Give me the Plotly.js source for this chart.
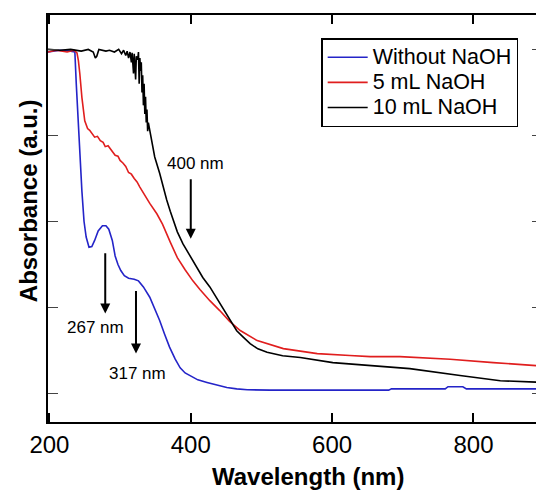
<!DOCTYPE html>
<html>
<head>
<meta charset="utf-8">
<script src="https://cdn.plot.ly/plotly-3.0.1.min.js"></script>
<style>
html, body { margin: 0; padding: 0; overflow: hidden; background: #fff; }
#chart { width: 560px; height: 490px; }
</style>
</head>
<body>
<div id="chart"></div>
<script>
// Wavelength (nm) and absorbance (a.u.)
const blueX = [198, 215, 230, 236, 238, 240, 243, 246, 249, 252, 256, 260, 264, 269, 275, 280, 284, 289, 293, 297, 301, 306, 312, 320, 326, 333, 342, 349, 356, 363, 370, 378, 385, 392, 399, 410, 423, 437, 451, 465, 480, 512, 560, 620, 680, 684, 760, 764, 785, 790, 897];
const blueY = [3.97, 3.99, 3.98, 3.97, 3.6, 3.3, 2.72, 2.35, 2.0, 1.82, 1.70, 1.71, 1.78, 1.89, 1.95, 1.95, 1.91, 1.78, 1.60, 1.50, 1.43, 1.37, 1.34, 1.33, 1.31, 1.24, 1.12, 0.99, 0.85, 0.69, 0.54, 0.40, 0.30, 0.24, 0.21, 0.16, 0.13, 0.10, 0.07, 0.055, 0.045, 0.04, 0.04, 0.04, 0.04, 0.055, 0.055, 0.08, 0.08, 0.055, 0.055];

const redX = [198, 210, 225, 235, 239, 241, 243, 246, 250, 254, 257, 260, 264, 268, 272, 276, 279, 283, 286, 290, 293, 297, 300, 304, 308, 312, 316, 320, 324, 328, 335, 342, 352, 360, 371, 381, 392, 403, 413, 427, 441, 455, 470, 494, 531, 579, 625, 654, 696, 767, 828, 897];
const redY = [3.97, 3.99, 3.97, 3.99, 3.96, 3.87, 3.72, 3.44, 3.17, 3.08, 3.06, 3.02, 2.98, 2.99, 2.94, 2.92, 2.87, 2.88, 2.85, 2.80, 2.77, 2.76, 2.71, 2.68, 2.64, 2.57, 2.55, 2.50, 2.46, 2.40, 2.30, 2.21, 2.09, 1.97, 1.76, 1.58, 1.44, 1.31, 1.21, 1.08, 0.965, 0.84, 0.733, 0.616, 0.523, 0.465, 0.442, 0.43, 0.43, 0.40, 0.36, 0.32];

const blackX = [198, 215, 230, 245, 255, 262, 265, 267, 270, 280, 285, 292, 298, 302, 305, 308, 310, 312, 314, 316, 317, 319, 320, 322, 323, 325, 326, 327, 328, 329, 330, 331, 332, 333, 334, 335, 336, 337, 338, 339, 340, 342, 345, 349, 356, 361, 366, 371, 381, 389, 399, 409, 417, 427, 441, 455, 465, 475, 484, 495, 508, 530, 555, 601, 654, 710, 781, 838, 897];
const blackY = [4.0, 3.99, 4.0, 3.98, 4.0, 3.97, 3.90, 3.92, 4.0, 3.98, 3.99, 3.97, 4.0, 3.95, 3.99, 3.93, 3.98, 3.9, 3.97, 3.85, 3.96, 3.72, 3.95, 3.65, 3.92, 3.88, 3.97, 3.6, 3.9, 3.75, 3.85, 3.5, 3.7, 3.35, 3.6, 3.25, 3.45, 3.15, 3.3, 3.05, 3.15, 3.06, 2.9, 2.75, 2.56, 2.40, 2.25, 2.12, 1.88, 1.74, 1.60, 1.46, 1.35, 1.24, 1.05, 0.85, 0.73, 0.65, 0.58, 0.52, 0.48, 0.44, 0.42, 0.36, 0.33, 0.29, 0.21, 0.15, 0.13];

const seriesNames = ["Without NaOH", "5 mL NaOH", "10 mL NaOH"];
const xTickVals = [200, 400, 600, 800];
const xTickText = ["200", "400", "600", "800"];
const yTickVals = [0, 1, 2, 3, 4];

// arrows: [headX, headY, tailX, tailY], labels: [x, y, text]
const arrows = [[400, 1.80, 400, 2.51], [279, 0.93, 279, 1.65], [322.5, 0.465, 322.5, 1.21]];
const labels = [[407, 2.67, "400 nm"], [264.5, 0.767, "267 nm"], [324, 0.233, "317 nm"]];

const FONT = "Liberation Sans, Arial, sans-serif";

const legendName = n => '<span style="font-size:21.5px">' + n + '</span>';

const traces = [
  {x: blueX, y: blueY, name: legendName(seriesNames[0]), mode: "lines", line: {color: "#2424c8", width: 1.6}},
  {x: redX, y: redY, name: legendName(seriesNames[1]), mode: "lines", line: {color: "#e01e1e", width: 1.6}},
  {x: blackX, y: blackY, name: legendName(seriesNames[2]), mode: "lines", line: {color: "#000000", width: 1.6}}
];

const annotations = [];
arrows.forEach(a => annotations.push({
  x: a[0], y: a[1], ax: a[2], ay: a[3], xref: "x", yref: "y", axref: "x", ayref: "y",
  text: "", showarrow: true, arrowhead: 2, arrowsize: 1, arrowwidth: 2, arrowcolor: "#000",
  standoff: 0, startstandoff: 0
}));
labels.forEach(l => annotations.push({
  x: l[0], y: l[1], xref: "x", yref: "y", text: l[2], showarrow: false,
  font: {family: FONT, size: 17, color: "#000"}, xanchor: "center", yanchor: "middle"
}));
annotations.push({
  x: 0.527, y: -0.134, xref: "paper", yref: "paper", text: "<b>Wavelength (nm)</b>",
  showarrow: false, xanchor: "center", yanchor: "middle",
  font: {family: FONT, size: 24, color: "#000"}
});
annotations.push({
  x: -0.0405, y: 0.545, xref: "paper", yref: "paper", text: "<b>Absorbance (a.u.)</b>",
  showarrow: false, xanchor: "center", yanchor: "middle", textangle: -90,
  font: {family: FONT, size: 24, color: "#000"}
});

const layout = {
  width: 560, height: 490,
  margin: {l: 48, r: 18, t: 15, b: 68},
  paper_bgcolor: "#fff", plot_bgcolor: "#fff",
  font: {family: FONT, color: "#000"},
  showlegend: true,
  legend: {
    x: 0.553, y: 0.943, xanchor: "left", yanchor: "top",
    bgcolor: "#fff", bordercolor: "#000", borderwidth: 1.5,
    font: {family: FONT, size: 17, color: "#000"}, tracegroupgap: 0,
    itemwidth: 40
  },
  xaxis: {
    range: [198, 897], tickvals: xTickVals, ticktext: xTickText,
    ticks: "inside", ticklen: 9, tickwidth: 2, tickcolor: "#000",
    showline: true, linewidth: 2, linecolor: "#000", mirror: "ticks",
    showgrid: false, zeroline: false,
    tickfont: {family: FONT, size: 24, color: "#000"}
  },
  yaxis: {
    range: [-0.33, 4.4], tickvals: yTickVals, showticklabels: false,
    ticks: "inside", ticklen: 10, tickwidth: 1.5, tickcolor: "#444",
    showline: true, linewidth: 2, linecolor: "#000", mirror: "ticks",
    showgrid: false, zeroline: false
  },
  annotations: annotations
};

Plotly.newPlot("chart", traces, layout, {displayModeBar: false, staticPlot: true});
</script>
</body>
</html>
